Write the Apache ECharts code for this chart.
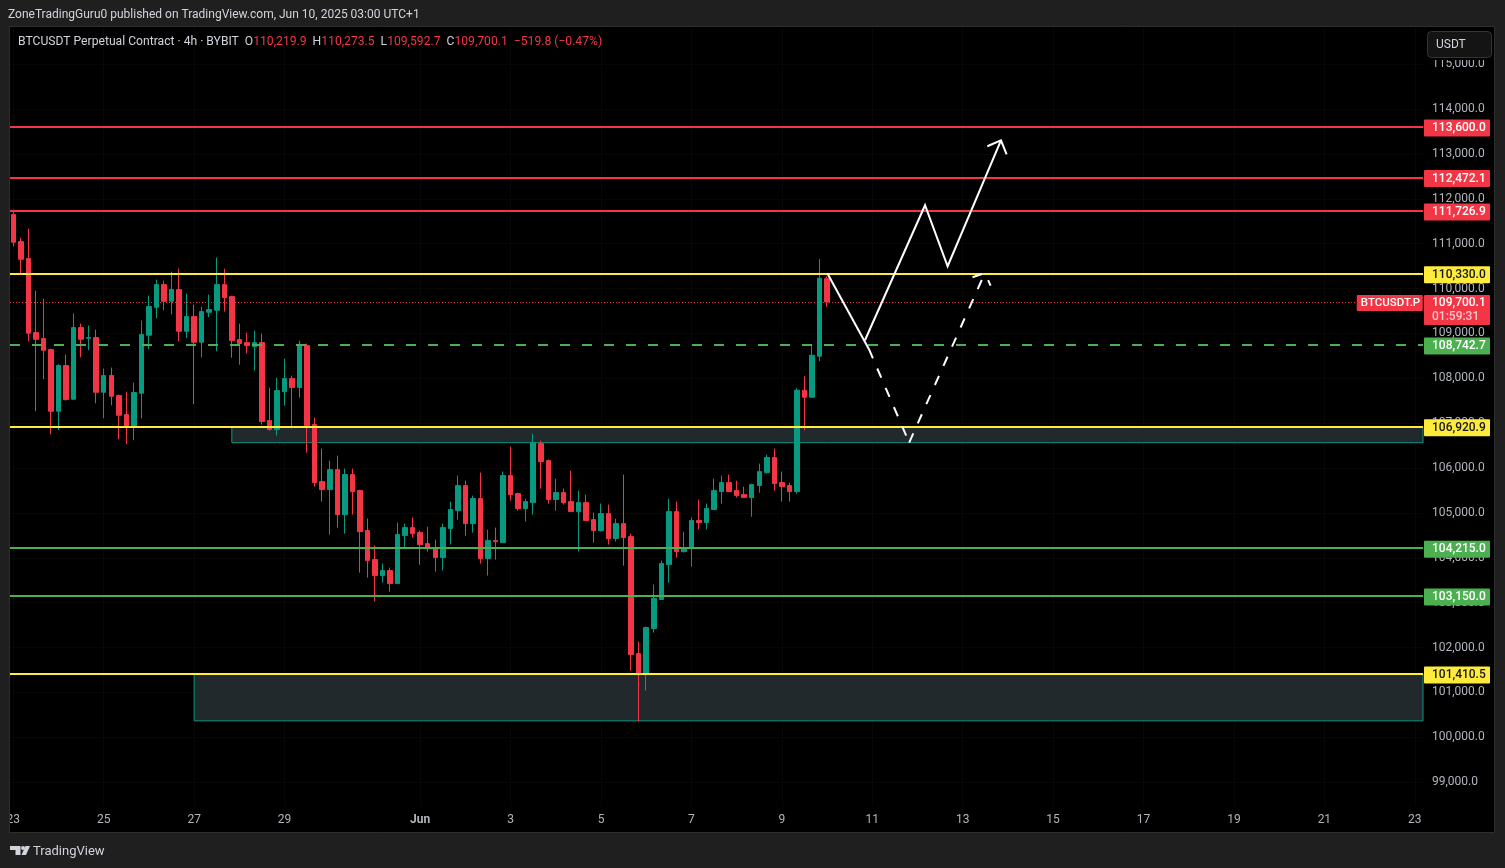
<!DOCTYPE html>
<html>
<head>
<meta charset="utf-8">
<title>BTCUSDT.P 4h</title>
<style>
  html, body { margin: 0; padding: 0; background: #1f1f1f; }
  #main { width: 1505px; height: 868px; }
</style>
<script src="https://cdn.jsdelivr.net/npm/echarts@6/dist/echarts.min.js"></script>
</head>
<body>
<div id="main"></div>
<script>
// 4h bars, index 0 = May 23 00:00
const opens = [111648,111046,110668,109019,108885,108640,107266,108284,107534,109130,108893,108908,107689,108061,107615,107192,106910,107667,108960,109583,110088,109717,109977,109049,109375,108804,109472,109517,110087,109820,108862,108795,108706,108795,107057,106857,107703,107993,107793,108728,106968,105698,105520,105965,104963,105854,105498,104606,103960,103604,103715,103425,104495,104673,104562,104316,104227,104005,104651,105052,105609,104762,105319,103982,104383,104339,105832,105430,105096,105230,106545,106166,105297,105453,105252,105029,105230,104851,104606,104985,104428,104762,104472,101866,101412,102423,103069,103849,105029,104138,104205,104829,104784,105074,105475,105676,105497,105408,105341,105609,105898,106233,105676,105609,105475,107734,107578,108492,110219.9];
const highs = [111759,111128,111336,109955,109776,108662,108313,108529,109442,109219,109175,109086,108217,108239,107637,107704,107905,109286,109843,110200,110178,110378,110445,109888,109643,109598,109866,110690,110444,109842,109218,109018,109063,108996,107793,108015,108439,108060,108840,108773,107124,106433,106166,106277,105988,105988,105520,104874,104272,103871,103782,104785,104762,104896,104606,104695,104406,104762,105252,105832,105720,105386,105898,104628,104673,105921,106478,105453,105319,106767,106611,106188,105765,105542,105943,105497,105408,105007,105208,105185,104873,105854,104539,102133,102467,103403,103938,105319,105252,104584,104896,105297,105208,105765,105832,105854,105720,105586,105653,106099,106299,106433,105921,105676,107779,108046,108737,110653,110273.5];
const lows = [110943,110341,108826,107266,107979,106754,106843,107504,107526,108469,108625,107444,107110,107400,106642,106531,106620,107110,108648,109338,109517,109427,108826,108893,107422,108469,109361,108603,109486,108461,108305,108550,108171,106968,106834,106723,107391,106886,107570,106344,105587,105252,104517,104673,104539,104963,103671,103559,103024,103448,103247,103425,104220,104450,103849,104138,103693,103715,104294,104851,104495,104562,103871,103603,103960,104339,105275,105052,104807,104963,105542,105208,105052,105185,105029,104138,104829,104339,104584,104294,104361,103826,101487,100350,101041,102333,103069,103447,104005,104116,103804,104628,104628,105074,105208,105475,105341,105341,104918,105453,105876,105497,105252,105252,105430,106843,107578,108380,109592.7];
const closes = [111032,110653,109004,108870,108625,107266,108284,107526,109130,108870,108908,107689,108061,107600,107177,106910,107682,108974,109598,110088,109717,109977,109049,109375,108804,109487,109531,110088,109798,108840,108773,108728,108795,107035,106857,107726,107993,107793,108728,106946,105676,105520,105965,104963,105854,105475,104584,103938,103604,103715,103425,104517,104673,104539,104294,104205,104005,104673,105074,105609,104762,105319,103982,104383,104361,105832,105408,105096,105252,106567,106143,105297,105453,105230,105029,105230,104829,104606,104985,104428,104762,104450,101843,101412,102445,103091,103871,105029,104138,104227,104829,104784,105096,105497,105676,105475,105386,105341,105631,105921,106233,105653,105586,105475,107734,107578,108514,110230,109700.1];

// date labels on the x axis
const dateTickBars = [0,12,24,36,54,66,78,90,102,114,126,138,150,162,174,186];
const dateTickLabels = ['23','25','27','29','Jun','3','5','7','9','11','13','15','17','19','21','23'];
const priceTicks = [99000,100000,101000,102000,103000,104000,105000,106000,107000,108000,109000,110000,111000,112000,113000,114000,115000];

// drawn levels
const redLevels = [113600, 112472.1, 111726.9];
const yellowLevels = [110330, 106920.9, 101410.5];
const greenLevels = [104215, 103150];
const dashedLevel = 108742.7;
const lastPrice = 109700.1;

// zones: [first bar, top price, bottom price]
const zoneUpper = [29, 106905, 106565];
const zoneLower = [24, 101405, 100366];

// hand drawn projections: [bar, price]
const solidDown = [[108.03,110340],[113.56,108648]];
const solidUp = [[113.03,108848],[121,111856],[124,110497],[131.08,113304]];
const solidHead = [[129.27,113171],[131.08,113304],[131.83,112992]];
const dashedDown = [[113.56,108648],[118.9,106568]];
const dashedUp = [[118.9,106568],[128.95,110348]];
const dashedHead = [[127.3,110252],[128.95,110348],[129.7,110066]];

const FONT = 'Roboto';
const RED = '#f23645', GREEN = '#4caf50', YELLOW = '#ffeb3b', CANDLE_UP = '#089981';
const PAGE = '#1f1f1f';
const X_MIN = -0.44, X_MAX = 187.09;

const fmt = v => v.toLocaleString('en-US', {minimumFractionDigits: 1, maximumFractionDigits: 1});
const candles = opens.map((o, i) => [i, o, closes[i], lows[i], highs[i]]);

function tag(color, textColor) {
    return {
        show: true, position: 'end', distance: 1, offset: [0, 1],
        formatter: p => fmt(p.value),
        backgroundColor: color, color: textColor,
        fontFamily: FONT, fontSize: 12, fontWeight: 500,
        width: 50, height: 11, lineHeight: 11,
        padding: [3, 8, 3, 8], borderRadius: 1, align: 'left'
    };
}
function level(p, color, textColor, width, type) {
    return {
        yAxis: p,
        lineStyle: {color: color, width: width, type: type || 'solid', opacity: 1},
        label: tag(color, textColor)
    };
}
function path(data, dash) {
    return {
        type: 'line', data: data, symbol: 'none', silent: true, z: 6,
        animation: false, clip: false,
        lineStyle: {color: '#ffffff', width: 2, type: dash ? [10, 11] : 'solid', cap: 'butt', join: 'miter'}
    };
}

const chart = echarts.init(document.getElementById('main'));
chart.setOption({
    animation: false,
    backgroundColor: PAGE,
    grid: {left: 10, top: 28, width: 1413, height: 778, containLabel: false},
    xAxis: {
        type: 'value', min: X_MIN, max: X_MAX,
        axisLine: {show: false},
        axisTick: {show: false, customValues: dateTickBars},
        axisLabel: {
            customValues: dateTickBars, margin: 8,
            color: '#b2b5be', fontFamily: FONT, fontSize: 12,
            formatter: v => {
                const t = dateTickLabels[dateTickBars.indexOf(v)];
                return t === 'Jun' ? '{b|Jun}' : t;
            },
            rich: {b: {fontWeight: 'bold', color: '#b2b5be', fontFamily: FONT, fontSize: 12}}
        },
        splitLine: {show: true, lineStyle: {color: '#070707', width: 1}}
    },
    yAxis: {
        type: 'value', position: 'right', min: 98469, max: 115806,
        axisLine: {show: false},
        axisTick: {show: false, customValues: priceTicks},
        axisLabel: {
            customValues: priceTicks, margin: 9,
            color: '#b2b5be', fontFamily: FONT, fontSize: 12,
            formatter: v => fmt(v)
        },
        splitLine: {show: true, lineStyle: {color: '#070707', width: 1}}
    },
    series: [
        {
            type: 'candlestick', name: 'BTCUSDT.P', data: candles, barWidth: 5, z: 3,
            encode: {x: 0, y: [1, 2, 3, 4]},
            itemStyle: {
                color: CANDLE_UP, color0: RED,
                borderColor: CANDLE_UP, borderColor0: RED, borderWidth: 1
            },
            markArea: {
                silent: true, z: 1,
                itemStyle: {color: '#22292c', borderColor: CANDLE_UP, borderWidth: 1},
                data: [
                    [{xAxis: zoneUpper[0], yAxis: zoneUpper[1]}, {xAxis: X_MAX, yAxis: zoneUpper[2]}],
                    [{xAxis: zoneLower[0], yAxis: zoneLower[1]}, {xAxis: X_MAX, yAxis: zoneLower[2]}]
                ]
            }
        },
        {
            // last price dotted line sits behind the candles
            type: 'line', data: [], silent: true,
            markLine: {
                silent: true, symbol: 'none', z: 1, animation: false,
                data: [
                    [
                        {
                            coord: [X_MIN, lastPrice],
                            lineStyle: {color: RED, width: 1, type: [1, 2]},
                            label: {
                                show: true, position: 'end', distance: 0, formatter: 'BTCUSDT.P',
                                color: '#fff', backgroundColor: RED, fontFamily: FONT, fontSize: 11.5, fontWeight: 500,
                                width: 58, height: 10, lineHeight: 10, padding: [3, 4, 3, 4], borderRadius: 1,
                                offset: [0, 1]
                            }
                        },
                        {coord: [178.3, lastPrice]}
                    ]
                ]
            }
        },
        {
            type: 'line', data: [], silent: true,
            markLine: {
                silent: true, symbol: 'none', animation: false, z: 5,
                data: [
                    ...redLevels.map(p => level(p, RED, '#fff', 2)),
                    ...yellowLevels.map(p => level(p, YELLOW, '#131722', 2)),
                    ...greenLevels.map(p => level(p, GREEN, '#fff', 2)),
                    level(dashedLevel, GREEN, '#fff', 2, [10, 12]),
                    {
                        yAxis: lastPrice,
                        lineStyle: {color: 'transparent', width: 0},
                        label: {
                            show: true, position: 'end', distance: 1,
                            formatter: () => fmt(lastPrice) + '\n{t|01:59:31}',
                            backgroundColor: RED, color: '#fff',
                            fontFamily: FONT, fontSize: 12, fontWeight: 500,
                            width: 50, lineHeight: 14, padding: [1, 8, 1, 8], borderRadius: 1,
                            offset: [0, 8],
                            rich: {t: {color: '#ffc4c9', fontFamily: FONT, fontSize: 12, lineHeight: 14}}
                        }
                    }
                ]
            }
        },
        path(solidDown), path(solidUp), path(solidHead),
        path(dashedDown, true), path(dashedUp, true), path(dashedHead, true)
    ],
    graphic: [
        // black chart panel with its thin border
        {type: 'rect', z: -10, shape: {x: 9.5, y: 26.5, width: 1485, height: 806}, style: {fill: '#000', stroke: '#2e2e2e', lineWidth: 1}},
        // covers whatever runs past the left edge, cuts the first date label
        {type: 'rect', z: 50, shape: {x: 0, y: 27, width: 9, height: 806}, style: {fill: PAGE}},
        {type: 'line', z: 50, shape: {x1: 9.5, y1: 27, x2: 9.5, y2: 833}, style: {stroke: '#2e2e2e', lineWidth: 1}},
        // currency button
        {type: 'rect', z: 40, shape: {x: 1424, y: 27, width: 70, height: 33}, style: {fill: '#000'}},
        {type: 'rect', z: 41, shape: {x: 1427.5, y: 31.5, width: 64, height: 26, r: 4}, style: {fill: '#141414', stroke: '#353535', lineWidth: 1}},
        {type: 'text', z: 42, style: {x: 1436, y: 45, text: 'USDT', fill: '#d1d4dc', font: '12px ' + FONT, verticalAlign: 'middle'}},
        // header
        {type: 'text', z: 42, style: {
            x: 8, y: 15, text: 'ZoneTradingGuru0 published on TradingView.com, Jun 10, 2025 03:00 UTC+1',
            fill: '#d1d4dc', font: '12px ' + FONT, verticalAlign: 'middle'
        }},
        // legend
        {type: 'text', z: 42, style: {
            x: 18, y: 42, verticalAlign: 'middle', font: '12.15px ' + FONT, fill: '#d1d4dc',
            text: 'BTCUSDT Perpetual Contract · 4h · BYBIT  O{r|' + fmt(opens[108]) + '}  H{r|' + fmt(highs[108]) +
                '}  L{r|' + fmt(lows[108]) + '}  C{r|' + fmt(closes[108]) + '}  {r|−519.8 (−0.47%)}',
            rich: {r: {fill: RED, font: '12.15px ' + FONT}}
        }},
        // footer logo
        {type: 'polygon', z: 42, shape: {points: [[10,846],[20.5,846],[20.5,855],[15.5,855],[15.5,850],[10,850]]}, style: {fill: '#d1d4dc'}},
        {type: 'circle', z: 42, shape: {cx: 23, cy: 848, r: 2}, style: {fill: '#d1d4dc'}},
        {type: 'polygon', z: 42, shape: {points: [[25.5,846],[30,846],[26,855],[21.5,855]]}, style: {fill: '#d1d4dc'}},
        {type: 'text', z: 42, style: {x: 33, y: 852, text: 'TradingView', fill: '#d1d4dc', font: '13px ' + FONT, verticalAlign: 'middle'}}
    ]
});
</script>
</body>
</html>
